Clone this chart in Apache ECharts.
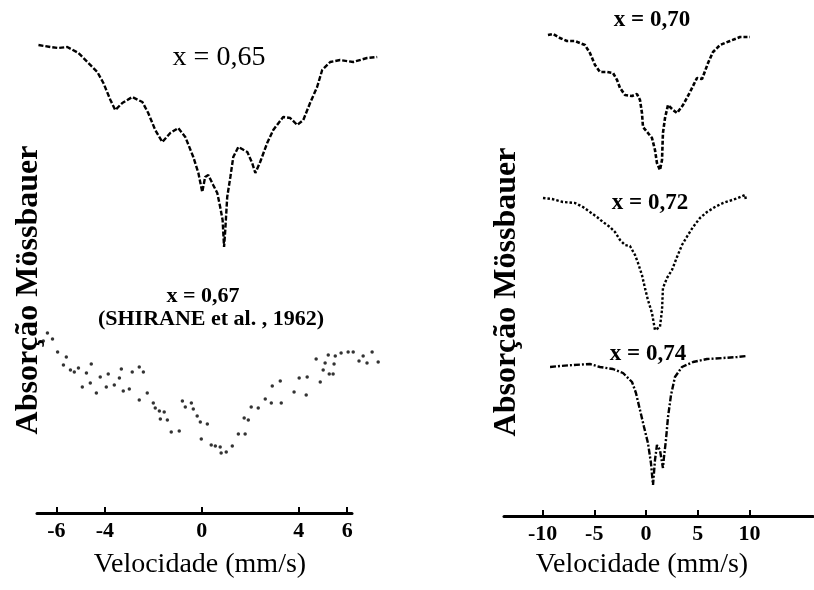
<!DOCTYPE html>
<html>
<head>
<meta charset="utf-8">
<script src="https://cdn.jsdelivr.net/npm/echarts@6/dist/echarts.min.js"></script>
<style>
  html, body { margin: 0; padding: 0; background: #fff; }
  #chart { width: 814px; height: 590px; }
</style>
</head>
<body>
<div id="chart"></div>
<script>
// Tick labels of the two velocity axes (mm/s)
const ticksLeft = [-6, -4, 0, 4, 6];
const ticksRight = [-10, -5, 0, 5, 10];

// x = 0,65 spectrum: velocity (mm/s) and absorption (arb. units, stacked)
const vel065 = [-6.74, -6.25, -5.92, -5.55, -5.09, -4.72, -4.31, -4.06, -3.77, -3.57, -3.28, -2.87, -2.45, -2.21, -1.92, -1.63, -1.30, -0.97, -0.68, -0.35, -0.14, 0.02, 0.14, 0.27, 0.47, 0.64, 0.76, 0.86, 0.92, 0.97, 1.05, 1.18, 1.30, 1.51, 1.88, 2.08, 2.21, 2.41, 2.70, 2.95, 3.36, 3.65, 3.94, 4.19, 4.47, 4.76, 4.97, 5.30, 5.71, 6.25, 6.82, 7.24];
const abs065 = [93.6, 93.2, 93.0, 93.2, 92.0, 90.2, 88.2, 86.0, 82.6, 80.6, 82.0, 83.2, 82.2, 80.0, 76.6, 74.2, 76.0, 77.0, 75.2, 71.2, 68.0, 64.2, 67.2, 67.6, 65.6, 64.0, 61.2, 58.6, 53.2, 56.6, 63.2, 67.2, 71.2, 73.2, 72.2, 70.0, 68.0, 70.2, 74.0, 76.6, 79.2, 79.0, 77.6, 78.6, 82.0, 85.2, 88.6, 90.2, 90.6, 90.2, 91.0, 91.2];

// x = 0,67 spectrum (SHIRANE et al., 1962): individual counts
const vel067 = [-6.54, -6.37, -6.16, -5.95, -5.59, -5.71, -5.42, -5.26, -5.09, -4.93, -4.76, -4.60, -4.56, -4.35, -4.19, -3.94, -3.86, -3.61, -3.40, -3.32, -3.24, -2.99, -2.87, -2.58, -2.58, -2.41, -2.25, -2.00, -1.92, -1.75, -1.71, -1.55, -1.42, -1.26, -0.93, -0.80, -0.68, -0.43, -0.35, -0.19, -0.06, 0.23, -0.02, 0.39, 0.56, 0.76, 0.80, 1.01, 1.26, 1.51, 1.79, 1.75, 1.92, 2.04, 2.33, 2.62, 2.87, 2.91, 3.24, 3.28, 3.81, 4.02, 4.31, 4.35, 4.72, 4.89, 5.01, 5.09, 5.22, 5.26, 5.42, 5.46, 5.51, 5.75, 6.04, 6.25, 6.49, 6.66, 6.82, 7.03, 7.28];
const abs067 = [34.4, 36.0, 34.8, 32.2, 31.2, 29.6, 28.6, 28.2, 29.0, 25.2, 28.0, 26.0, 29.8, 24.0, 27.2, 25.2, 27.8, 25.6, 27.0, 28.8, 24.4, 24.8, 28.2, 22.6, 29.2, 28.2, 24.0, 22.0, 21.0, 20.4, 18.8, 20.2, 18.6, 16.2, 16.4, 22.4, 21.2, 22.0, 20.8, 19.4, 18.2, 17.8, 14.8, 13.6, 13.4, 13.2, 12.0, 12.2, 13.4, 15.8, 15.8, 19.0, 18.6, 21.2, 21.0, 22.8, 22.0, 25.4, 26.4, 22.0, 24.2, 27.0, 23.6, 27.2, 30.8, 26.2, 28.6, 30.0, 31.6, 27.8, 27.8, 29.8, 31.4, 32.0, 32.2, 32.2, 30.4, 31.4, 30.0, 32.2, 30.2];

// x = 0,70 spectrum
const vel070 = [-9.48, -8.99, -8.32, -7.64, -6.87, -5.90, -5.42, -4.93, -4.45, -3.77, -3.19, -2.80, -2.51, -2.03, -1.35, -0.87, -0.58, -0.39, -0.29, 0.19, 0.58, 0.87, 1.06, 1.35, 1.55, 1.64, 1.84, 2.13, 2.61, 3.00, 3.58, 4.26, 4.93, 5.42, 6.00, 6.48, 7.16, 8.12, 9.09, 10.06];
const abs070 = [96.2, 96.4, 95.6, 95.0, 95.0, 94.2, 92.6, 90.2, 88.8, 88.8, 88.6, 87.2, 85.6, 84.2, 84.0, 84.4, 83.2, 80.6, 77.8, 76.6, 75.6, 73.2, 70.6, 69.2, 71.2, 76.6, 79.6, 82.2, 81.2, 80.6, 82.2, 84.8, 87.6, 87.4, 90.6, 92.8, 94.2, 95.0, 95.8, 95.8];

// x = 0,72 spectrum
const vel072 = [-9.96, -9.09, -8.03, -6.87, -6.09, -5.42, -4.74, -4.16, -3.48, -3.00, -2.51, -2.03, -1.55, -1.06, -0.77, -0.39, -0.10, 0.19, 0.58, 0.87, 1.35, 1.55, 1.64, 2.03, 2.51, 3.00, 3.48, 4.06, 4.55, 5.22, 5.90, 6.67, 7.45, 8.32, 8.90, 9.57, 9.67];
const abs072 = [63.6, 63.4, 62.8, 62.6, 61.8, 60.8, 59.8, 58.8, 57.8, 56.8, 55.2, 54.2, 54.0, 52.2, 50.6, 48.2, 45.6, 43.2, 40.6, 37.2, 37.8, 41.2, 45.6, 47.6, 49.2, 51.8, 54.2, 56.2, 57.8, 59.6, 60.8, 61.8, 62.6, 63.2, 63.6, 64.2, 63.2];

// x = 0,74 spectrum
const vel074 = [-9.28, -8.32, -7.06, -5.42, -4.45, -3.19, -2.22, -1.35, -0.97, -0.58, -0.19, 0.19, 0.48, 0.68, 0.87, 1.06, 1.35, 1.64, 1.74, 1.93, 2.13, 2.42, 2.80, 3.48, 4.55, 5.90, 7.45, 8.80, 9.77];
const abs074 = [29.8, 30.0, 30.2, 30.4, 29.8, 29.4, 28.6, 26.8, 24.6, 21.2, 17.8, 14.6, 10.6, 6.2, 11.2, 14.2, 13.2, 9.6, 11.8, 15.2, 19.8, 24.2, 27.8, 29.8, 30.8, 31.4, 31.6, 31.8, 32.0];

const zip = (xs, ys) => xs.map((x, i) => [x, ys[i]]);

const SERIF = '"Liberation Serif", "Times New Roman", Times, serif';

// Left panel: the drawn axis covers -6.8..6.2 mm/s, while the spectra run a
// little past its right end, so they sit on a hidden axis of the same scale.
const LEFT_MIN = -6.8, LEFT_AXIS_MAX = 6.2, LEFT_DATA_MAX = 7.5;
const LEFT_X = 37, LEFT_AXIS_W = 315;
const LEFT_DATA_W = LEFT_AXIS_W * (LEFT_DATA_MAX - LEFT_MIN) / (LEFT_AXIS_MAX - LEFT_MIN);

function velocityAxis(gridIndex, min, max, ticks) {
  return {
    type: 'value', gridIndex, min, max,
    axisLine: { show: true, onZero: false, lineStyle: { color: '#000', width: 3 } },
    axisTick: { show: true, inside: true, length: 6, customValues: ticks, lineStyle: { color: '#000', width: 2 } },
    axisLabel: {
      show: true, customValues: ticks, margin: 7,
      color: '#000', fontFamily: SERIF, fontWeight: 'bold', fontSize: 22
    },
    splitLine: { show: false }
  };
}

function absorptionAxis(gridIndex) {
  return { type: 'value', gridIndex, min: 0, max: 100, show: false };
}

function text(x, y, str, size, weight, extra) {
  return Object.assign({
    type: 'text', x, y,
    style: {
      text: str, fill: '#000',
      font: `${weight} ${size}px ${SERIF}`,
      align: 'center', verticalAlign: 'middle'
    }
  }, extra || {});
}

const chart = echarts.init(document.getElementById('chart'), null, { renderer: 'canvas' });

chart.setOption({
  backgroundColor: '#fff',
  animation: false,
  grid: [
    { left: LEFT_X, width: LEFT_AXIS_W, top: 13, bottom: 77 },
    { left: 504, right: 1, top: 16, bottom: 74 },
    { left: LEFT_X, width: LEFT_DATA_W, top: 13, bottom: 77 }
  ],
  xAxis: [
    velocityAxis(0, LEFT_MIN, LEFT_AXIS_MAX, ticksLeft),
    velocityAxis(1, -13.73, 16.15, ticksRight),
    { type: 'value', gridIndex: 2, min: LEFT_MIN, max: LEFT_DATA_MAX, show: false }
  ],
  yAxis: [absorptionAxis(0), absorptionAxis(1), absorptionAxis(2)],
  series: [
    {
      name: 'x = 0,65', type: 'line', xAxisIndex: 2, yAxisIndex: 2,
      data: zip(vel065, abs065), showSymbol: false, clip: false,
      lineStyle: { color: '#000', width: 2.4, type: [5, 2] }
    },
    {
      name: 'x = 0,67', type: 'scatter', xAxisIndex: 2, yAxisIndex: 2,
      data: zip(vel067, abs067), symbol: 'circle', symbolSize: 3.5, clip: false,
      itemStyle: { color: '#000' }
    },
    {
      name: 'x = 0,70', type: 'line', xAxisIndex: 1, yAxisIndex: 1,
      data: zip(vel070, abs070), showSymbol: false, clip: false,
      lineStyle: { color: '#000', width: 2.6, type: [4, 2] }
    },
    {
      name: 'x = 0,72', type: 'line', xAxisIndex: 1, yAxisIndex: 1,
      data: zip(vel072, abs072), showSymbol: false, clip: false,
      lineStyle: { color: '#000', width: 2.4, type: [2.5, 2] }
    },
    {
      name: 'x = 0,74', type: 'line', xAxisIndex: 1, yAxisIndex: 1,
      data: zip(vel074, abs074), showSymbol: false, clip: false,
      lineStyle: { color: '#000', width: 2.4, type: [6, 2, 2, 2] }
    }
  ],
  graphic: [
    text(219, 58, 'x = 0,65', 28, 'normal'),
    text(203, 296, 'x = 0,67', 22, 'bold'),
    text(211, 319, '(SHIRANE et al. , 1962)', 22, 'bold'),
    text(652, 20, 'x = 0,70', 23, 'bold'),
    text(650, 203, 'x = 0,72', 23, 'bold'),
    text(648, 354, 'x = 0,74', 23, 'bold'),
    text(200, 565, 'Velocidade (mm/s)', 28, 'normal'),
    text(642, 565, 'Velocidade (mm/s)', 28, 'normal'),
    text(29, 290, 'Absorção Mössbauer', 32, 'bold', { rotation: Math.PI / 2 }),
    text(507, 292, 'Absorção Mössbauer', 32, 'bold', { rotation: Math.PI / 2 })
  ]
});
</script>
</body>
</html>
